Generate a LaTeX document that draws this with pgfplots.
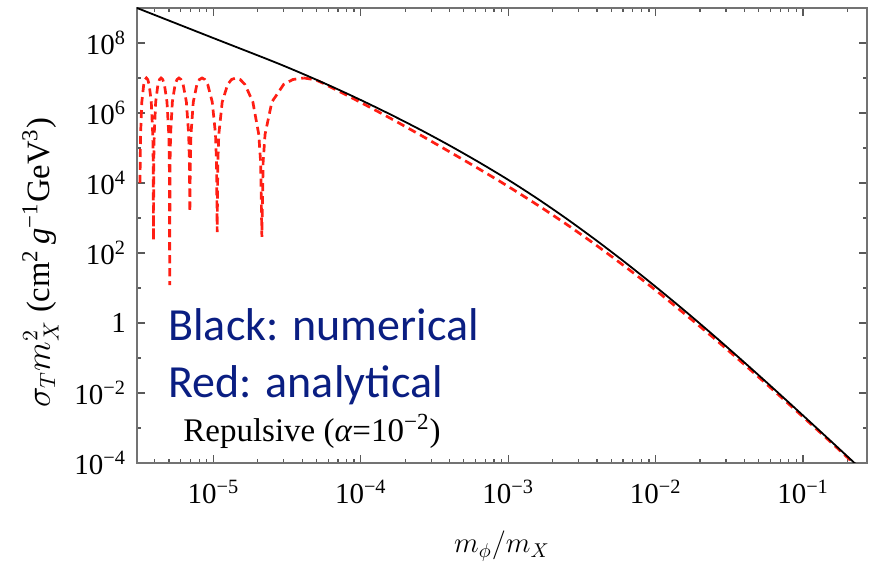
\documentclass[border=0pt]{standalone}
\usepackage{fontspec}
\setmainfont{Liberation Serif}
\newfontfamily\gill{Carlito}
\usepackage{pgfplots}
\pgfplotsset{compat=1.18}
\definecolor{navy}{RGB}{10,30,130}
\definecolor{redc}{RGB}{255,30,20}
\newcommand{\tp}[1]{10\textsuperscript{#1}}

\begin{document}
\begin{tikzpicture}
\begin{axis}[
  at={(0,0)}, anchor=south west,
  scale only axis, width=365pt, height=227.5pt,
  xmode=log, ymode=log,
  xmin=3.03e-6, xmax=0.2714, ymin=1e-4, ymax=1e9,
  xtick={1e-5,1e-4,1e-3,1e-2,1e-1},
  xticklabels={\tp{−5},\tp{−4},\tp{−3},\tp{−2},\tp{−1}},
  minor xtick={4e-6,5e-6,6e-6,7e-6,8e-6,9e-6,
    2e-5,3e-5,4e-5,5e-5,6e-5,7e-5,8e-5,9e-5,
    2e-4,3e-4,4e-4,5e-4,6e-4,7e-4,8e-4,9e-4,
    2e-3,3e-3,4e-3,5e-3,6e-3,7e-3,8e-3,9e-3,
    2e-2,3e-2,4e-2,5e-2,6e-2,7e-2,8e-2,9e-2,2e-1},
  ytick={1e-4,1e-2,1,1e2,1e4,1e6,1e8},
  yticklabels={\tp{−4},\tp{−2},1,\tp{2},\tp{4},\tp{6},\tp{8}},
  minor ytick={1e-3,1e-1,10,1e3,1e5,1e7},
  tick align=inside,
  major tick length=4pt, minor tick length=2.2pt,
  every tick/.style={black!65, line width=0.6pt},
  axis line style={black!55, line width=0.9pt},
  tick label style={font=\fontsize{14.5}{17}\selectfont},
  xticklabel style={yshift=-5pt},
  yticklabel style={xshift=-2pt},
  xlabel={$m_\phi/m_X$},
  ylabel={$\sigma_T m_X^2$ (cm\textsuperscript{2}\,\textit{g}\textsuperscript{−1}GeV\textsuperscript{3})},
  xlabel style={font=\fontsize{14}{17}\selectfont, at={(axis description cs:0.5,-0.1978)}, anchor=base},
  ylabel style={font=\fontsize{16.3}{19}\selectfont, at={(axis description cs:-0.1192,0.44)}, anchor=base},
  clip=true,
]
\addplot[redc, line width=1.35pt, dash pattern=on 4pt off 2.5pt] coordinates {
(3.175e-6,1e4) (3.187e-6,3.94e4) (3.205e-6,2.45e5) (3.268e-6,2.06e6) (3.367e-6,6.55e6)
(3.436e-6,9.05e6) (3.509e-6,1e7) (3.584e-6,9.05e6) (3.663e-6,6.55e6) (3.788e-6,2.06e6)
(3.876e-6,2.45e5) (3.903e-6,3.94e4) (3.922e-6,229)
(3.939e-6,3.94e4) (3.966e-6,2.45e5) (4.058e-6,2.06e6) (4.203e-6,6.55e6) (4.307e-6,9.05e6)
(4.415e-6,1e7) (4.529e-6,9.05e6) (4.649e-6,6.55e6) (4.841e-6,2.06e6) (4.979e-6,2.45e5)
(5.022e-6,3.94e4) (5.051e-6,12)
(5.078e-6,3.94e4) (5.120e-6,2.45e5) (5.264e-6,2.06e6) (5.496e-6,6.55e6) (5.663e-6,9.05e6)
(5.839e-6,1e7) (6.028e-6,9.05e6) (6.229e-6,6.55e6) (6.556e-6,2.06e6) (6.794e-6,2.45e5)
(6.870e-6,3.94e4) (6.920e-6,1479)
(6.969e-6,3.94e4) (7.043e-6,2.45e5) (7.301e-6,2.06e6) (7.726e-6,6.55e6) (8.037e-6,9.05e6)
(8.375e-6,1e7) (8.743e-6,9.05e6) (9.144e-6,6.55e6) (9.820e-6,2.06e6) (1.033e-5,2.45e5)
(1.049e-5,3.94e4) (1.060e-5,398)
(1.071e-5,3.94e4) (1.088e-5,2.45e5) (1.147e-5,2.06e6) (1.249e-5,6.55e6) (1.327e-5,9.05e6)
(1.416e-5,1e7) (1.518e-5,9.05e6) (1.636e-5,6.55e6) (1.852e-5,2.06e6) (2.030e-5,2.45e5)
(2.090e-5,3.94e4) (2.132e-5,288)
(2.174e-5,3.94e4) (2.240e-5,2.45e5) (2.491e-5,2.06e6) (2.994e-5,6.55e6) (3.460e-5,9.05e6)
(4.098e-5,1e7)
};
\addplot[redc, line width=1.35pt, dash pattern=on 4pt off 2.5pt, smooth] coordinates {
(4.098e-5,1e7) (5.012e-5,8.511e6) (6.310e-5,5.370e6) (1e-4,1.995e6) (1.585e-4,7.079e5)
(2.512e-4,2.399e5) (3.981e-4,7.870e4) (6.310e-4,2.547e4) (1e-3,7.943e3) (1.585e-3,2.323e3)
(2.512e-3,639.7) (3.981e-3,162.9) (6.310e-3,38.73) (1e-2,8.630) (1.585e-2,1.778)
(2.512e-2,0.3548) (3.981e-2,0.06607) (6.310e-2,0.01186) (0.1,2.070e-3) (0.1585,3.548e-4)
(0.2193,1e-4) (0.2512,5.89e-5)
};
\addplot[black, line width=0.9pt, smooth] coordinates {
(3.03e-6,1e9) (1e-5,1.380e8) (2.512e-5,3.020e7) (3.981e-5,1.349e7) (6.310e-5,5.754e6)
(1e-4,2.344e6) (1.585e-4,9.120e5) (2.512e-4,3.388e5) (3.981e-4,1.191e5) (6.310e-4,3.945e4)
(1e-3,1.230e4) (1.585e-3,3.516e3) (2.512e-3,924.7) (3.981e-3,224.9) (6.310e-3,51.05)
(1e-2,10.86) (1.585e-2,2.188) (2.512e-2,0.4169) (3.981e-2,0.07586) (6.310e-2,0.01330)
(0.1,2.270e-3) (0.1585,3.802e-4) (0.2193,1.072e-4) (0.2512,6.31e-5)
};
\node[anchor=base west, inner sep=0, text=navy, font=\gill\fontsize{23}{27}\selectfont]
  at (axis description cs:0.0425,0.2703) {Black: numerical};
\node[anchor=base west, inner sep=0, text=navy, font=\gill\fontsize{23}{27}\selectfont]
  at (axis description cs:0.0425,0.1429) {Red: analytical};
\node[anchor=base west, inner sep=0, font=\fontsize{16.5}{19}\selectfont]
  at (axis description cs:0.063,0.0468) {Repulsive (\textit{α}=10\textsuperscript{−2})};
\end{axis}
\pgfresetboundingbox
\path (-68.5pt,-51pt) rectangle (366pt,231.5pt);
\end{tikzpicture}
\end{document}
